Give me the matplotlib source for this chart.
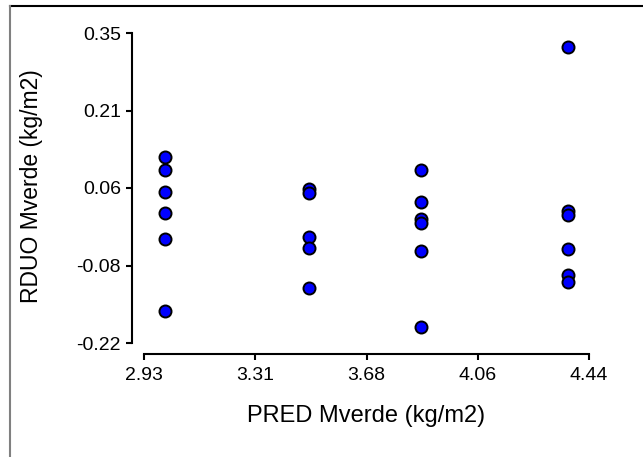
import matplotlib
matplotlib.use("Agg")
import matplotlib.pyplot as plt
from matplotlib.lines import Line2D

plt.rcParams['font.family'] = ['Liberation Sans', 'DejaVu Sans']

# predicted values (x) and residuals (y)
pred = [3.0] * 6 + [3.49] * 5 + [3.87] * 6 + [4.37] * 6
resid = [0.122, 0.099, 0.058, 0.019, -0.029, -0.162,
         0.063, 0.055, -0.026, -0.045, -0.118,
         0.099, 0.040, 0.008, 0.000, -0.051, -0.191,
         0.324, 0.023, 0.015, -0.048, -0.095, -0.107]

xticks = [2.93, 3.3075, 3.685, 4.0625, 4.44]
xtick_labels = ["2.93", "3.31", "3.68", "4.06", "4.44"]
yticks = [-0.22, -0.0775, 0.065, 0.2075, 0.35]
ytick_labels = ["-0.22", "-0.08", "0.06", "0.21", "0.35"]

fig = plt.figure(figsize=(6.43, 4.57), dpi=100)
ax = fig.add_axes([144 / 643, 1 - 343 / 457, 445 / 643, 310 / 457])

ax.scatter(pred, resid, s=75, c='#0000ff', edgecolors='black', linewidths=1.4,
           zorder=3, clip_on=False)

ax.set_xlim(2.93, 4.44)
ax.set_ylim(-0.22, 0.35)
ax.set_xticks(xticks)
ax.set_xticklabels(xtick_labels)
ax.set_yticks(yticks)
ax.set_yticklabels(ytick_labels)

for s in ['top', 'right']:
    ax.spines[s].set_visible(False)
ax.spines['left'].set_position(('outward', 9))
ax.spines['bottom'].set_position(('outward', 8))
for s in ['left', 'bottom']:
    ax.spines[s].set_linewidth(1.5)
ax.tick_params(width=1.5, length=4.5, labelsize=14, colors='black')
ax.tick_params(axis='x', pad=5)
ax.tick_params(axis='y', pad=3)

ax.set_xlabel("PRED Mverde (kg/m2)", fontsize=17)
ax.set_ylabel("RDUO Mverde (kg/m2)", fontsize=16.5)
ax.xaxis.set_label_coords(0.5, -0.2)
ax.yaxis.set_label_coords(-0.226, 0.505)

# page frame
fig.add_artist(Line2D([10 / 643, 1], [1 - 6 / 457, 1 - 6 / 457], color='black', lw=1.5))
fig.add_artist(Line2D([10 / 643, 10 / 643], [0, 1 - 6 / 457], color='#808080', lw=1.5))

fig.savefig("out.png", dpi=100)
